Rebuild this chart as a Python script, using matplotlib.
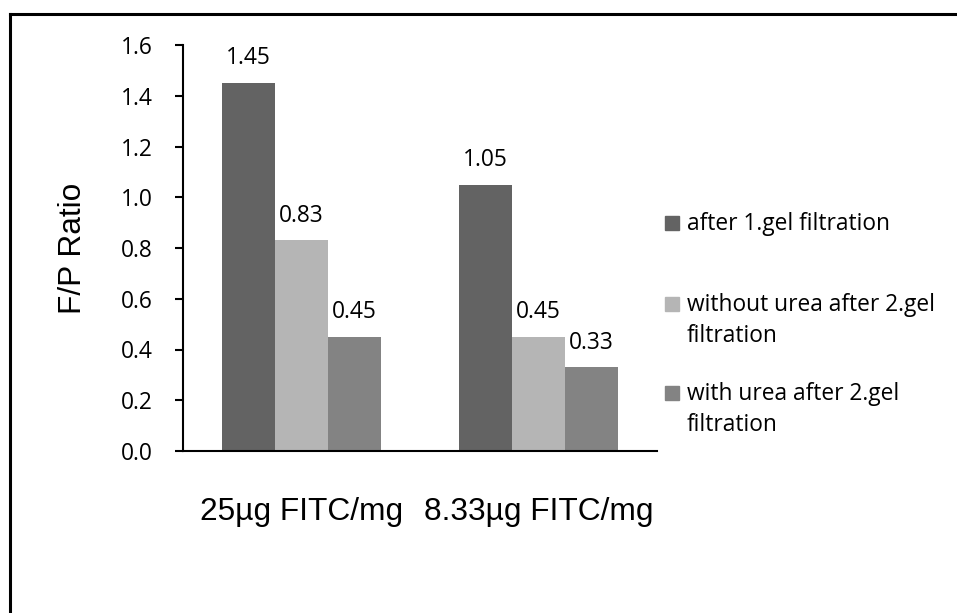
import matplotlib
matplotlib.use("Agg")
import matplotlib.pyplot as plt
from matplotlib.lines import Line2D
from matplotlib.patches import Rectangle
import numpy as np

categories = ["25µg FITC/mg", "8.33µg FITC/mg"]
series_names = ["after 1.gel filtration",
                "without urea after 2.gel filtration",
                "with urea after 2.gel filtration"]
legend_lines = [["after 1.gel filtration"],
                ["without urea after 2.gel", "filtration"],
                ["with urea after 2.gel", "filtration"]]
values = [
    [1.45, 1.05],
    [0.83, 0.45],
    [0.45, 0.33],
]
colors = ["#636363", "#b5b5b5", "#838383"]
yticks = [0.0, 0.2, 0.4, 0.6, 0.8, 1.0, 1.2, 1.4, 1.6]

W, H = 957, 613
fig = plt.figure(figsize=(W / 100, H / 100), dpi=100)
ax = fig.add_axes([183 / W, 1 - 451 / H, (657 - 183) / W, (451 - 45) / H])

calibri_like = "Open Sans"
arial_like = "Liberation Sans"

x = np.arange(len(categories))
width = 0.2236
for i, (vals, col) in enumerate(zip(values, colors)):
    pos = x + (i - 1) * width
    ax.bar(pos, vals, width, color=col, edgecolor="none", zorder=2)
    for p, v in zip(pos, vals):
        ax.annotate(f"{v:.2f}", xy=(p, v), xytext=(0, 13.5),
                    textcoords="offset points", ha="center", va="baseline",
                    fontsize=16.4, family=calibri_like, color="black")

ax.set_xlim(-0.5, 1.5)
ax.set_ylim(0, 1.6)
ax.set_yticks(yticks)
ax.set_yticklabels([f"{t:.1f}" for t in yticks], family=calibri_like, fontsize=16.4)
ax.set_xticks(x)
ax.set_xticklabels(categories, family=arial_like, fontsize=22.8)
ax.tick_params(axis="x", length=0, pad=33)
ax.tick_params(axis="y", direction="out", length=6, width=1.5, pad=16)

for s in ["top", "right"]:
    ax.spines[s].set_visible(False)
for s in ["left", "bottom"]:
    ax.spines[s].set_linewidth(1.5)

ax.set_ylabel("F/P Ratio", family=arial_like, fontsize=22.8)
ax.yaxis.set_label_coords(-95 / (657 - 183), 0.5)

# legend drawn by hand to follow the reference wrapping
baselines = [[230], [311, 342], [400, 431]]
for lines, ys, col in zip(legend_lines, baselines, colors):
    fig.add_artist(Rectangle((665 / W, 1 - ys[0] / H), 14 / W, 14 / H,
                             transform=fig.transFigure, color=col))
    for txt, yb in zip(lines, ys):
        fig.text(687 / W, 1 - yb / H, txt, family=calibri_like, fontsize=16.4,
                 va="baseline", ha="left")

# outer frame (only left and top edges are visible in the reference)
fig.add_artist(Line2D([10 / W, 10 / W], [0, 1 - 14 / H], transform=fig.transFigure,
                      color="black", lw=2.2))
fig.add_artist(Line2D([10 / W, 1], [1 - 14 / H, 1 - 14 / H], transform=fig.transFigure,
                      color="black", lw=2.2))

fig.savefig("out.png", dpi=100)
